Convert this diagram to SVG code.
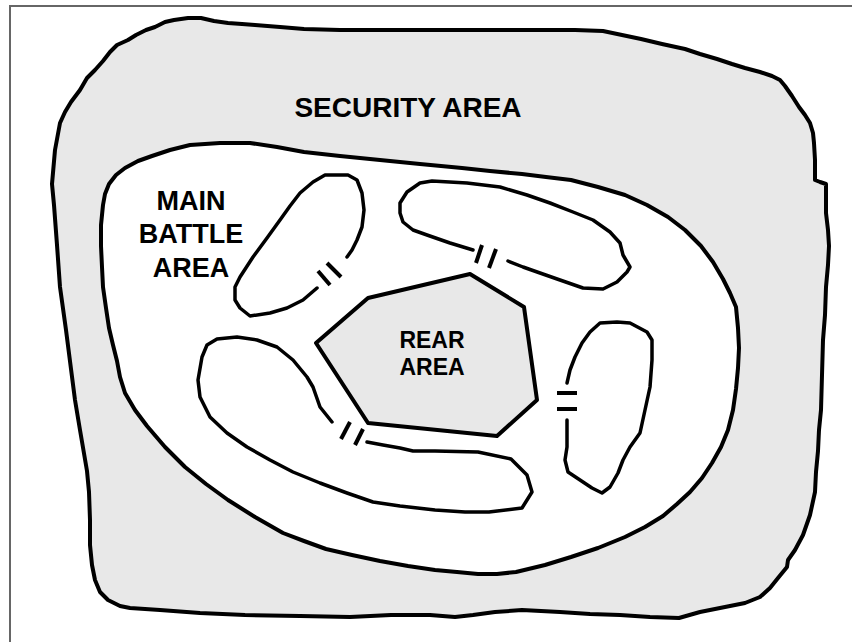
<svg xmlns="http://www.w3.org/2000/svg" width="852" height="642" viewBox="0 0 852 642">
  <style>
    .frame { fill: none; stroke: #666; stroke-width: 2; }
    .zone { stroke: #000; stroke-width: 4; stroke-linejoin: round; stroke-linecap: round; }
    .gray { fill: #e8e8e8; }
    .white { fill: #ffffff; }
    .ln { fill: none; stroke: #000; stroke-width: 3.5; stroke-linejoin: round; stroke-linecap: round; }
    .mk { stroke: #000; stroke-width: 4; stroke-linecap: butt; fill: none; }
    .lbl { font-family: "Liberation Sans", Arial, sans-serif; font-weight: bold; fill: #000; text-anchor: middle; }
  </style>
  <rect class="frame" x="10" y="6" width="850" height="645"/>

  <g id="security-area">
    <path class="zone gray" d="M117,45 L128,40 L136,35 L146,30 L155,27 L165,22 L174,20 L188,18 L201,18 L214,21 L228,23 L242,24 L255,25 L280,27 L304,29 L340,30 L380,30 L420,30 L462,30 L500,30 L543,30 L575,30 L603,31 L622,35 L641,39 L662,44 L685,49 L700,54 L717,59 L732,64 L745,68 L760,72 L772,76 L780,80 L785,86 L792,96 L799,107 L805,115 L810,123 L813,133 L814,143 L815,160 L815,180 L820,182 L826,184 L826,200 L826,213 L828,230 L829,246 L828,265 L826,287 L825,315 L823,340 L822,375 L821,410 L819,430 L818,451 L816,472 L815,492 L810,515 L803,535 L795,550 L788,560 L787,567 L778,578 L770,588 L760,597 L745,603 L720,608 L700,612 L679,618 L650,617 L620,615 L590,614 L560,612 L522,610 L495,612 L473,615 L455,617 L430,615 L391,615 L350,617 L300,616 L245,615 L200,613 L160,610 L130,608 L120,606 L108,600 L100,592 L95,580 L92,565 L90,545 L90,520 L89,492 L87,471 L80,430 L75,400 L71,369 L66,330 L60,287 L57,245 L54,205 L52,184 L55,150 L60,123 L65,112 L71,102 L80,90 L87,78 L95,70 L103,61 L110,52 Z"/>
    <text class="lbl" x="408" y="117" font-size="28">SECURITY AREA</text>
  </g>

  <g id="main-battle-area">
    <path class="zone white" d="M190,145 L220,143 L250,143 L277,147 L304,152 L340,156 L380,160 L420,164 L462,168 L490,171 L522,174 L546,177 L571,180 L598,187 L625,195 L647,205 L668,217 L685,230 L701,246 L713,262 L723,279 L730,293 L736,307 L738,328 L739,348 L738,368 L736,389 L733,410 L728,430 L721,447 L712,463 L702,478 L690,492 L677,504 L663,516 L645,527 L625,537 L598,548 L571,557 L545,565 L516,572 L497,574 L478,574 L457,572 L435,570 L408,566 L380,561 L352,555 L326,549 L304,541 L283,533 L255,517 L228,500 L206,484 L185,467 L165,447 L147,426 L135,410 L125,393 L120,377 L117,361 L113,345 L109,328 L106,308 L103,287 L102,267 L101,246 L101,225 L103,205 L105,194 L109,184 L116,175 L125,168 L138,161 L152,156 L170,150 Z"/>
    <text class="lbl" x="191" y="210" font-size="27">MAIN</text>
    <text class="lbl" x="191" y="243" font-size="27">BATTLE</text>
    <text class="lbl" x="191" y="277" font-size="27">AREA</text>
  </g>

  <g id="rear-area">
    <polygon class="zone gray" stroke-width="3.5" points="470,274 524,307 537,400 497,436 368,423 316,343 368,298"/>
    <text class="lbl" x="432" y="348" font-size="23">REAR</text>
    <text class="lbl" x="432" y="375" font-size="23">AREA</text>
  </g>

  <g id="position-nw">
    <polyline class="ln" points="347,257 352,250 357,240 362,227 364,210 362,193 357,180 348,175 325,175 313,182 300,193 290,206 280,220 267,238 253,257 240,277 235,287 235,300 240,308 250,316 270,313 287,308 303,300 317,288"/>
  </g>

  <g id="position-ne">
    <polyline class="ln" points="508,261 523,267 540,273 560,280 583,288 603,289 617,282 627,272 630,267 623,255 620,243 610,232 593,220 573,212 550,203 527,195 500,187 467,183 432,181 420,183 407,192 400,203 400,213 403,222 413,230 427,235 450,243 473,250"/>
  </g>

  <g id="position-e">
    <polyline class="ln" points="567,420 567,447 565,460 568,472 580,480 592,488 602,493 610,487 618,473 623,460 630,447 640,433 645,410 650,387 652,360 652,340 647,332 630,323 617,322 600,323 590,332 582,343 575,357 570,370 567,383"/>
  </g>

  <g id="position-sw">
    <polyline class="ln" points="332,422 320,407 313,387 307,377 293,360 277,347 257,340 237,337 217,339 207,345 202,357 198,380 200,397 210,417 227,433 247,447 270,460 293,472 320,483 347,493 373,502 400,506 435,510 465,512 489,512 522,508 532,492 527,475 511,459 478,452 435,451 413,451 400,448 383,445 367,442"/>
  </g>

  <g id="connectors">
    <line class="mk" x1="318" y1="271" x2="330" y2="285"/>
    <line class="mk" x1="327" y1="263" x2="341" y2="277"/>
    <line class="mk" x1="482" y1="245" x2="476" y2="263"/>
    <line class="mk" x1="496" y1="249" x2="489" y2="268"/>
    <line class="mk" x1="557" y1="393" x2="577" y2="393" stroke-width="5"/>
    <line class="mk" x1="557" y1="409" x2="577" y2="409" stroke-width="5"/>
    <line class="mk" x1="350" y1="422" x2="341" y2="439"/>
    <line class="mk" x1="363" y1="429" x2="355" y2="445"/>
  </g>
</svg>
